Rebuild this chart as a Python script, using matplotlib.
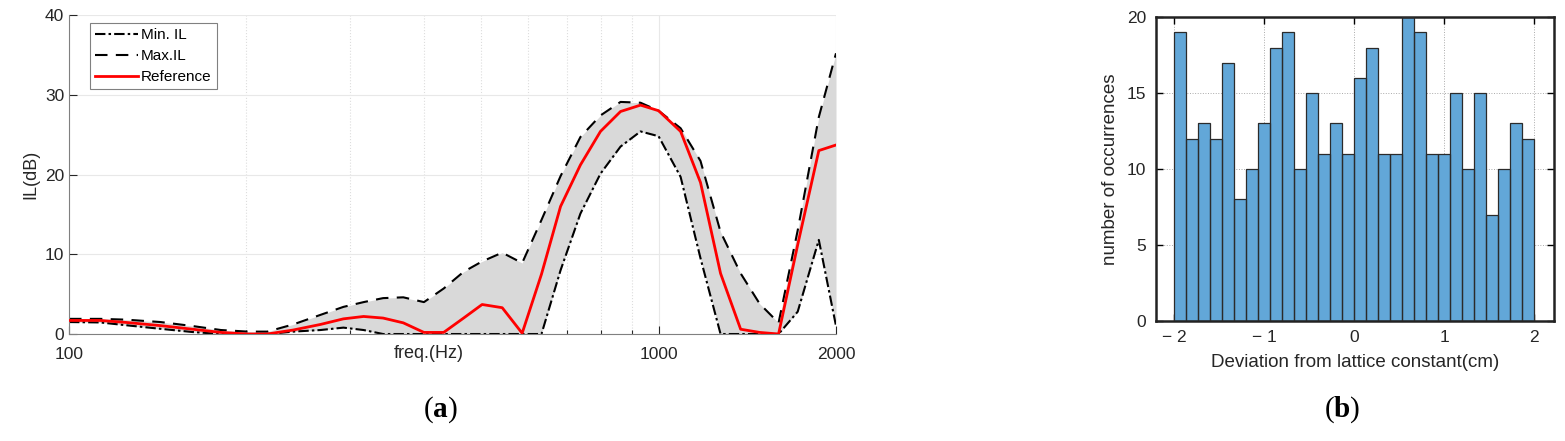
import numpy as np
import matplotlib
matplotlib.use('Agg')
import matplotlib.pyplot as plt
from matplotlib.ticker import FixedLocator, NullFormatter

plt.rcParams['font.family'] = ['Liberation Sans', 'DejaVu Sans']
plt.rcParams['mathtext.fontset'] = 'custom'
plt.rcParams['mathtext.rm'] = 'Liberation Serif'
plt.rcParams['mathtext.bf'] = 'Liberation Serif:bold'

# (a) insertion loss vs frequency
freq = [100, 113, 125, 143, 162, 181, 201, 217, 240, 267, 292, 316, 341, 369,
        400, 432, 467, 502, 543, 587, 633, 682, 737, 797, 862, 932, 1000, 1090,
        1178, 1274, 1378, 1484, 1598, 1722, 1870, 2000]
il_max = [1.9, 1.9, 1.8, 1.5, 1.0, 0.5, 0.3, 0.3, 1.2, 2.4, 3.4, 4.0, 4.5, 4.6,
          4.0, 5.7, 7.8, 9.1, 10.2, 8.9, 14.3, 19.8, 24.7, 27.4, 29.1, 29.0, 28.0, 25.8,
          21.7, 12.8, 7.6, 3.8, 1.4, 13.0, 27.2, 35.2]
il_ref = [1.7, 1.7, 1.45, 1.05, 0.6, 0.2, 0.0, 0.0, 0.5, 1.2, 1.9, 2.2, 2.0, 1.4,
          0.2, 0.2, 2.0, 3.7, 3.3, 0.1, 7.5, 16.0, 21.2, 25.4, 27.9, 28.7, 28.0, 25.4,
          19.0, 7.6, 0.6, 0.2, 0.0, 11.2, 23.0, 23.7]
il_min = [1.5, 1.45, 1.1, 0.65, 0.25, 0.0, 0.0, 0.0, 0.3, 0.5, 0.8, 0.5, 0.0, 0.0,
          0.0, 0.0, 0.0, 0.0, 0.0, 0.0, 0.0, 8.0, 15.1, 20.1, 23.5, 25.4, 24.8, 19.7,
          9.5, 0.0, 0.0, 0.0, 0.0, 2.8, 11.8, 1.0]

# (b) histogram of lattice deviations
counts = [19, 12, 13, 12, 17, 8, 10, 13, 18, 19, 10, 15, 11, 13, 11,
          16, 18, 11, 11, 20, 19, 11, 11, 15, 10, 15, 7, 10, 13, 12]
dev_range = (-2, 2)

fig = plt.figure(figsize=(15.65, 4.41), dpi=100)
tick_col = '#262626'

# ---- left panel
ax = fig.add_axes([0.0441, 0.2426, 0.4901, 0.7234])
ax.fill_between(freq, il_min, il_max, color='#D9D9D9', lw=0, zorder=1)
ax.plot(freq, il_min, color='black', lw=1.5, ls=(0, (5, 1.5, 1.2, 1.5)), label='Min. IL', zorder=2)
ax.plot(freq, il_max, color='black', lw=1.5, ls=(0, (6, 4)), label='Max.IL', zorder=2)
ax.plot(freq, il_ref, color='#FF0000', lw=2, label='Reference', zorder=3)

ax.set_xscale('log')
ax.set_xlim(100, 2000)
ax.set_ylim(0, 40)
ax.xaxis.set_major_locator(FixedLocator([100, 1000, 2000]))
ax.xaxis.set_minor_locator(FixedLocator([200, 300, 400, 500, 600, 700, 800, 900]))
ax.xaxis.set_minor_formatter(NullFormatter())
ax.set_xticklabels(['100', '1000', '2000'])
ax.set_yticks([0, 10, 20, 30, 40])
ax.tick_params(which='both', direction='in', colors=tick_col, labelsize=12.5,
               top=False, right=False, width=0.8)
ax.tick_params(which='major', length=6)
ax.tick_params(which='minor', length=3)
ax.tick_params(axis='x', pad=9)
ax.grid(True, which='major', color='#E8E8E8', lw=0.8)
ax.grid(True, which='minor', axis='x', color='#DDDDDD', lw=0.8, ls=':')
ax.set_axisbelow(True)
for s in ['top', 'right']:
    ax.spines[s].set_visible(False)
for s in ['left', 'bottom']:
    ax.spines[s].set_color('#808080')
    ax.spines[s].set_linewidth(0.8)
ax.set_ylabel('IL(dB)', fontsize=13, color=tick_col, labelpad=4)
ax.set_xlabel('freq.(Hz)', fontsize=13, color=tick_col)
ax.xaxis.set_label_coords(0.469, -0.035)
leg = ax.legend(loc='upper left', bbox_to_anchor=(0.027, 0.975), borderaxespad=0,
                fontsize=11, handlelength=2.8, handletextpad=0.2, labelspacing=0.45,
                borderpad=0.35, fancybox=False, framealpha=1, edgecolor='#808080')
leg.get_frame().set_linewidth(0.8)

# ---- right panel
bx = fig.add_axes([0.7387, 0.2728, 0.2543, 0.688])
edges = np.linspace(dev_range[0], dev_range[1], len(counts) + 1)
bx.stairs(counts, edges, fill=True, color='#62A7D8', zorder=2)
bx.bar(edges[:-1], counts, width=np.diff(edges), align='edge', color='none',
       edgecolor='#2B2B2B', lw=0.9, zorder=3)
bx.set_xlim(-2.2, 2.22)
bx.set_ylim(0, 20)
bx.set_xticks([-2, -1, 0, 1, 2])
bx.set_xticklabels(['\u2212 2', '\u2212 1', '0', '1', '2'])
bx.set_yticks([0, 5, 10, 15, 20])
bx.tick_params(direction='in', top=True, right=True, length=5, width=1,
               labelsize=12.5, labelcolor=tick_col, pad=7)
bx.grid(True, color='#AAAAAA', lw=0.7, ls=':')
bx.set_axisbelow(True)
for s in bx.spines.values():
    s.set_linewidth(1.8)
    s.set_color('#222222')
bx.set_xlabel('Deviation from lattice constant(cm)', fontsize=13.5, color=tick_col, labelpad=6)
bx.set_ylabel('number of occurrences', fontsize=13.5, color=tick_col, labelpad=6)

# panel captions
fig.text(440 / 1565, 1 - 410 / 441, r'($\mathbf{a}$)', fontsize=21, ha='center', va='center',
         family='Liberation Serif')
fig.text(1342 / 1565, 1 - 410 / 441, r'($\mathbf{b}$)', fontsize=21, ha='center', va='center',
         family='Liberation Serif')

fig.savefig('out.png', dpi=100)
